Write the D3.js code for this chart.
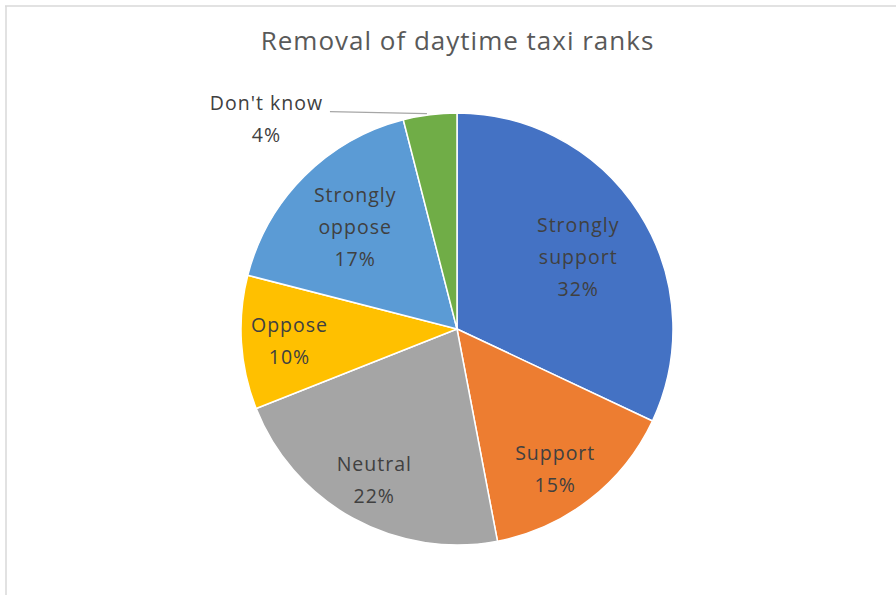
<!DOCTYPE html>
<html>
<head>
<meta charset="utf-8">
<script src="https://cdn.jsdelivr.net/npm/d3@7"></script>
<style>
  html, body { margin: 0; padding: 0; background: #fff; }
  svg { display: block; }
  text { font-family: "Open Sans", "Noto Sans", sans-serif; }
</style>
</head>
<body>
<svg id="chart" width="896" height="595"></svg>
<script>
// Survey responses: removal of daytime taxi ranks
const categories = ["Strongly support", "Support", "Neutral", "Oppose", "Strongly oppose", "Don't know"];
const shares = [32, 15, 22, 10, 17, 4];
const sliceColors = ["#4472C4", "#ED7D31", "#A5A5A5", "#FFC000", "#5B9BD5", "#70AD47"];
const labelLines = [["Strongly", "support"], ["Support"], ["Neutral"], ["Oppose"], ["Strongly", "oppose"], ["Don't know"]];
const chartTitle = "Removal of daytime taxi ranks";

const W = 896, H = 595;
const cx = 457, cy = 329, R = 216;
// label placement: fraction of the radius and angular nudge (radians); last one sits outside
const labelRadius = [0.65, 0.79, 0.8, 0.78, 0.67, null];
const labelNudge = [0.03, 0.05, 0.0, -0.01, 0.0, 0];

const svg = d3.select("#chart");

// chart area frame (only top and left edges fall inside the view)
svg.append("line").attr("x1", 5).attr("y1", 6).attr("x2", W).attr("y2", 6)
  .attr("stroke", "#d9d9d9").attr("stroke-width", 1.5);
svg.append("line").attr("x1", 6).attr("y1", 6).attr("x2", 6).attr("y2", H)
  .attr("stroke", "#d9d9d9").attr("stroke-width", 1.5);

svg.append("text")
  .attr("x", cx + 0.5).attr("y", 50)
  .attr("text-anchor", "middle")
  .attr("font-size", 26)
  .attr("letter-spacing", 1)
  .attr("fill", "#595959")
  .text(chartTitle);

const data = categories.map((c, i) => ({ name: c, value: shares[i], i }));
const pie = d3.pie().value(d => d.value).sort(null);
const arcs = pie(data);
const arc = d3.arc().innerRadius(0).outerRadius(R);

const g = svg.append("g").attr("transform", `translate(${cx},${cy})`);

g.selectAll("path.slice")
  .data(arcs)
  .join("path")
  .attr("class", "slice")
  .attr("d", arc)
  .attr("fill", d => sliceColors[d.data.i])
  .attr("stroke", "#fff")
  .attr("stroke-width", 1.5)
  .attr("stroke-linejoin", "round");

const lineGap = 32;
const fontSize = 19.5;

arcs.forEach(d => {
  const i = d.data.i;
  const mid = (d.startAngle + d.endAngle) / 2 + labelNudge[i];
  const lines = labelLines[i].concat([d.data.value + "%"]);
  let lx, ly;
  if (labelRadius[i] !== null) {
    const r = labelRadius[i] * R;
    lx = Math.sin(mid) * r;
    ly = -Math.cos(mid) * r;
  } else {
    // outside label with leader line to the arc's midpoint
    const ex = Math.sin(mid) * R, ey = -Math.cos(mid) * R;
    lx = ex - 164; ly = ey + 4;
    g.append("polyline")
      .attr("points", `${lx + 64},${ey - 3} ${ex - 3},${ey - 1}`)
      .attr("fill", "none")
      .attr("stroke", "#a6a6a6")
      .attr("stroke-width", 1.2);
  }
  const t = g.append("text")
    .attr("text-anchor", "middle")
    .attr("font-size", fontSize)
    .attr("letter-spacing", 1)
    .attr("fill", "#404040");
  const y0 = ly - (lines.length - 1) * lineGap / 2;
  lines.forEach((s, k) => {
    t.append("tspan")
      .attr("x", lx + 0.5)
      .attr("y", y0 + k * lineGap)
      .attr("dy", "0.35em")
      .text(s);
  });
});
</script>
</body>
</html>
